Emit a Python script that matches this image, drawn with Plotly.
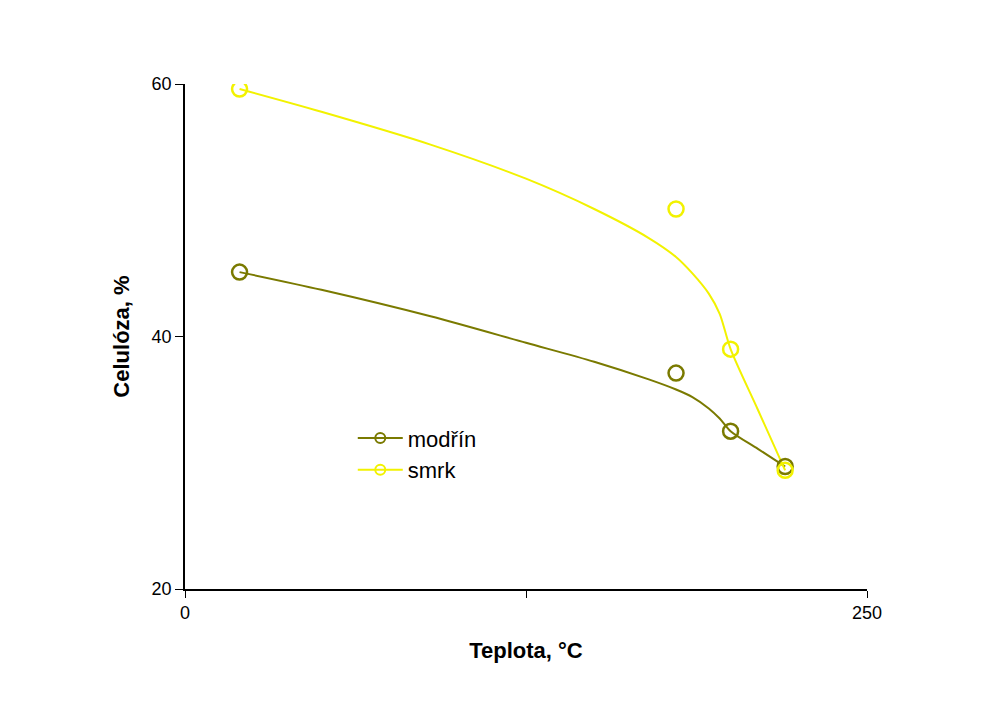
import plotly.graph_objects as go

# measured points
temp = [20, 180, 200, 220]
modrin = [45.1, 37.1, 32.5, 29.7]
smrk = [59.6, 50.1, 39.0, 29.4]

# fitted trend curves
trend_x = [20, 50, 90, 125, 150, 170, 180, 186, 192, 196, 200, 210, 220]
modrin_trend = [45.1, 43.7, 41.6, 39.5, 38.0, 36.6, 35.8, 35.2, 34.3, 33.5, 32.5, 31.1, 29.7]
smrk_trend = [59.6, 57.8, 55.2, 52.5, 50.1, 47.8, 46.3, 45.0, 43.4, 41.8, 39.0, 34.2, 29.4]

c_mod = "#7a7a00"
c_smrk = "#f2f200"

fig = go.Figure()
fig.add_trace(go.Scatter(x=trend_x, y=modrin_trend, mode="lines", line=dict(color=c_mod, width=2, shape="spline", smoothing=0.8), showlegend=False, hoverinfo="skip"))
fig.add_trace(go.Scatter(x=trend_x, y=smrk_trend, mode="lines", line=dict(color=c_smrk, width=2, shape="spline", smoothing=0.8), showlegend=False, hoverinfo="skip"))
fig.add_trace(go.Scatter(x=temp, y=modrin, mode="markers", marker=dict(symbol="circle-open", size=15, color=c_mod, line=dict(width=2.5, color=c_mod)), showlegend=False))
fig.add_trace(go.Scatter(x=temp, y=smrk, mode="markers", marker=dict(symbol="circle-open", size=15, color=c_smrk, line=dict(width=2.5, color=c_smrk)), showlegend=False))
# legend entries
fig.add_trace(go.Scatter(x=[None], y=[None], mode="lines+markers", name="modřín", line=dict(color=c_mod, width=2), marker=dict(symbol="circle-open", size=10, color=c_mod, line=dict(width=2, color=c_mod))))
fig.add_trace(go.Scatter(x=[None], y=[None], mode="lines+markers", name="smrk", line=dict(color=c_smrk, width=2), marker=dict(symbol="circle-open", size=10, color=c_smrk, line=dict(width=2, color=c_smrk))))

fig.update_layout(
    width=991, height=702,
    margin=dict(l=177, r=132, t=76, b=121),
    paper_bgcolor="white", plot_bgcolor="white",
    font=dict(family="Liberation Sans, Arial", size=18, color="black"),
    legend=dict(x=0.246, y=0.34, xanchor="left", yanchor="top", bgcolor="rgba(0,0,0,0)", font=dict(size=22), itemwidth=45, tracegroupgap=0),
    xaxis=dict(range=[0, 250], tickvals=[0, 125, 250], ticktext=["0", "", "250"], showline=True, linecolor="black", linewidth=1.5,
               ticks="outside", ticklen=7, tickcolor="black", showgrid=False, zeroline=False, tickfont=dict(size=18),
               title=dict(text="<b>Teplota, °C</b>", font=dict(size=22), standoff=20)),
    yaxis=dict(range=[20, 60], tickvals=[20, 40, 60], showline=True, linecolor="black", linewidth=1.5,
               ticks="outside", ticklen=8, tickcolor="black", showgrid=False, zeroline=False, tickfont=dict(size=18),
               title=dict(text="<b>Celulóza, %</b>", font=dict(size=22), standoff=16)),
)
fig.write_html("out.html")
